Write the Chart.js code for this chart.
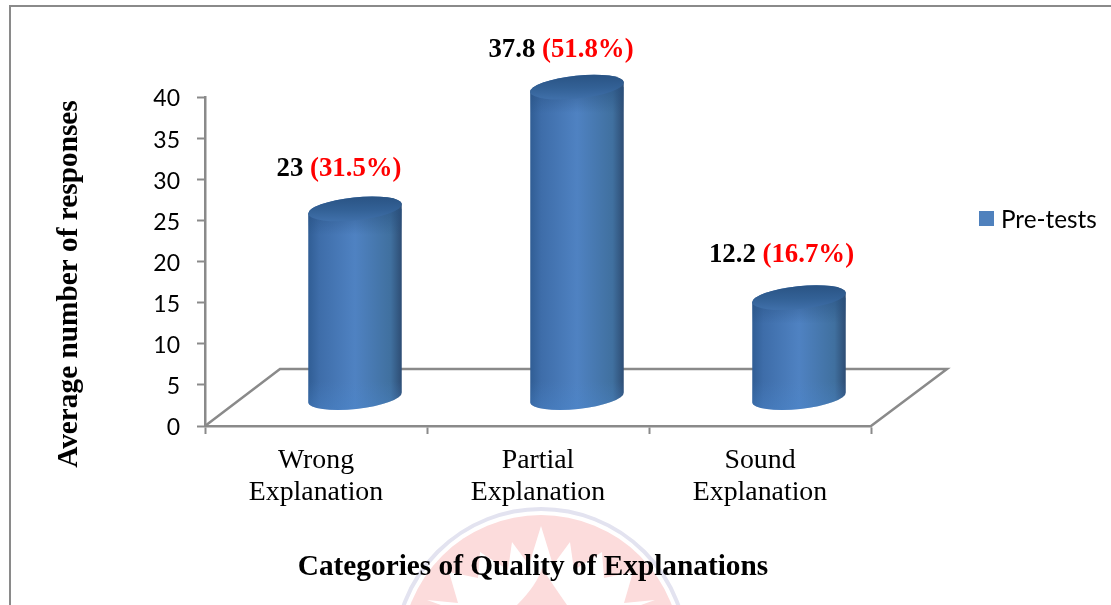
<!DOCTYPE html>
<html>

<head>
    <title>Quality of Explanations</title>
    <script src="https://cdn.jsdelivr.net/npm/chart.js"></script>
    <style>
        html, body {
            margin: 0;
            padding: 0;
            background: #ffffff;
            overflow: hidden;
        }

        canvas {
            display: block;
        }
    </style>
</head>

<body>
    <canvas id="explanationChart" width="1111" height="605"></canvas>

    <script>
        // Chart data
        var categories = [['Wrong', 'Explanation'], ['Partial', 'Explanation'], ['Sound', 'Explanation']];
        var seriesName = 'Pre-tests';
        var preTests = [23, 37.8, 12.2];
        var valueLabels = ['23', '37.8', '12.2'];
        var percentLabels = ['(31.5%)', '(51.8%)', '(16.7%)'];
        var xTitle = 'Categories of Quality of Explanations';
        var yTitle = 'Average number of responses';

        var serif = '"Liberation Serif", "Times New Roman", serif';
        var axisGrey = '#8a8a8a';

        // How far the cylinders and the floor are pushed back into the 3D view
        var depthX = 39;
        var depthY = 28;
        var floorX = 75;
        var floorY = 57;

        // Label shift from each cylinder's top
        var labelShift = [[-16, -68], [-16, -65], [-17.5, -71]];

        function pageFrame(ctx) {
            ctx.strokeStyle = axisGrey;
            ctx.lineWidth = 2;
            ctx.beginPath();
            ctx.moveTo(10, 605);
            ctx.lineTo(10, 6);
            ctx.lineTo(1111, 6);
            ctx.stroke();
        }

        // Faint seal behind the axis title
        function seal(ctx) {
            var cx = 541, cy = 655;
            ctx.fillStyle = '#fcdcdc';
            ctx.beginPath();
            ctx.arc(cx, cy, 140, 0, Math.PI * 2);
            ctx.fill();
            ctx.strokeStyle = '#e3e3f0';
            ctx.lineWidth = 4;
            ctx.beginPath();
            ctx.arc(cx, cy, 146, 0, Math.PI * 2);
            ctx.stroke();

            // white leaf, the right half mirrors the left
            var half = [[0, -129], [-12, -90], [-29, -113], [-33, -85], [-61, -103], [-63, -77], [-92, -83], [-83, -52], [-114, -55], [-100, -50]];
            ctx.fillStyle = '#ffffff';
            ctx.beginPath();
            half.forEach(function (p, i) {
                if (i === 0) ctx.moveTo(cx, cy + p[1]);
                else ctx.lineTo(cx + p[0], cy + p[1]);
            });
            half.slice().reverse().forEach(function (p) {
                ctx.lineTo(cx - p[0], cy + p[1]);
            });
            ctx.closePath();
            ctx.fill();

            // flame in the middle of the leaf
            ctx.fillStyle = '#fcdcdc';
            ctx.beginPath();
            ctx.moveTo(cx + 1, cy - 87);
            ctx.quadraticCurveTo(cx - 4, cy - 70, cx - 24, cy - 50);
            ctx.lineTo(cx + 26, cy - 50);
            ctx.quadraticCurveTo(cx + 12, cy - 70, cx + 1, cy - 87);
            ctx.fill();
        }

        function drawCylinder(ctx, cx, topY, baseY, rx) {
            var ry = 11.5;
            var tilt = -6 * Math.PI / 180;

            var side = ctx.createLinearGradient(cx - rx, 0, cx + rx, 0);
            side.addColorStop(0, '#305d94');
            side.addColorStop(0.12, '#3e6da9');
            side.addColorStop(0.5, '#4f82c2');
            side.addColorStop(0.88, '#40709f');
            side.addColorStop(1, '#2d4c73');

            ctx.save();
            ctx.beginPath();
            ctx.ellipse(cx, topY, rx, ry, tilt, Math.PI, Math.PI * 2);
            ctx.ellipse(cx, baseY, rx, ry, tilt, 0, Math.PI);
            ctx.closePath();
            ctx.fillStyle = side;
            ctx.fill();
            ctx.clip();

            // lighter fade into the bottom edge
            var rim = ctx.createLinearGradient(0, baseY - 16, 0, baseY + 12);
            rim.addColorStop(0, 'rgba(75, 135, 205, 0)');
            rim.addColorStop(1, 'rgba(75, 135, 205, 0.4)');
            ctx.fillStyle = rim;
            ctx.fillRect(cx - rx - 2, baseY - 16, rx * 2 + 4, 30);

            // soft shade right under the cap
            var shade = ctx.createLinearGradient(0, topY, 0, topY + 26);
            shade.addColorStop(0, 'rgba(38, 78, 125, 0.55)');
            shade.addColorStop(1, 'rgba(38, 78, 125, 0)');
            ctx.fillStyle = shade;
            ctx.fillRect(cx - rx - 2, topY, rx * 2 + 4, 26);
            ctx.restore();

            // top cap, its front edge melts into the side
            var cap = ctx.createLinearGradient(0, topY - ry, 0, topY + ry);
            cap.addColorStop(0, '#2a5485');
            cap.addColorStop(0.55, '#336196');
            cap.addColorStop(1, '#3f6fa9');
            ctx.fillStyle = cap;
            ctx.beginPath();
            ctx.ellipse(cx, topY, rx, ry, tilt, 0, Math.PI * 2);
            ctx.fill();
        }

        var scene = {
            id: 'scene',
            beforeDraw: function (chart) {
                var ctx = chart.ctx;
                ctx.save();
                pageFrame(ctx);
                seal(ctx);
                ctx.restore();
            },
            beforeDatasetsDraw: function (chart) {
                // floor of the plot, behind the cylinders
                var ctx = chart.ctx;
                var area = chart.chartArea;
                ctx.save();
                ctx.strokeStyle = axisGrey;
                ctx.lineWidth = 2.5;
                ctx.lineJoin = 'miter';
                ctx.beginPath();
                ctx.moveTo(area.left, area.bottom);
                ctx.lineTo(area.left + floorX, area.bottom - floorY);
                ctx.lineTo(area.right + floorX + 1, area.bottom - floorY);
                ctx.lineTo(area.right, area.bottom);
                ctx.stroke();
                ctx.restore();
            },
            afterDatasetsDraw: function (chart) {
                var ctx = chart.ctx;
                var bars = chart.getDatasetMeta(0).data;
                ctx.save();
                bars.forEach(function (bar, i) {
                    var cx = bar.x + depthX;
                    var rx = bar.width / 2;
                    drawCylinder(ctx, cx, bar.y - depthY, bar.base - depthY, rx);

                    // value and percentage above the cylinder
                    ctx.font = 'bold 26.8px ' + serif;
                    ctx.textBaseline = 'middle';
                    ctx.textAlign = 'left';
                    var gap = ctx.measureText(' ').width;
                    var w1 = ctx.measureText(valueLabels[i]).width;
                    var w2 = ctx.measureText(percentLabels[i]).width;
                    var lx = cx + labelShift[i][0] - (w1 + gap + w2) / 2;
                    var ly = bar.y + labelShift[i][1];
                    ctx.fillStyle = '#000000';
                    ctx.fillText(valueLabels[i], lx, ly);
                    ctx.fillStyle = '#ff0000';
                    ctx.fillText(percentLabels[i], lx + w1 + gap, ly);
                });
                ctx.restore();
            },
            afterDraw: function (chart) {
                var ctx = chart.ctx;
                ctx.save();

                // axis titles
                ctx.fillStyle = '#000000';
                ctx.font = 'bold 29.3px ' + serif;
                ctx.textAlign = 'center';
                ctx.textBaseline = 'middle';
                ctx.fillText(xTitle, 533, 567);
                ctx.save();
                ctx.translate(69, 284);
                ctx.rotate(-Math.PI / 2);
                ctx.fillText(yTitle, 0, 0);
                ctx.restore();

                // legend
                ctx.fillStyle = '#4f81bd';
                ctx.fillRect(979, 211, 15, 15);
                ctx.fillStyle = '#000000';
                ctx.font = '24.3px Lato, sans-serif';
                ctx.textAlign = 'left';
                ctx.fillText(seriesName, 1001, 220);
                ctx.restore();
            }
        };

        var explanationCtx = document.getElementById('explanationChart').getContext('2d');
        var explanationChart = new Chart(explanationCtx, {
            type: 'bar',
            data: {
                labels: categories,
                datasets: [{
                    label: seriesName,
                    data: preTests,
                    // the cylinders are painted by the scene plugin from these bars
                    backgroundColor: 'rgba(0, 0, 0, 0)',
                    categoryPercentage: 1,
                    barPercentage: 0.4234
                }]
            },
            options: {
                responsive: false,
                animation: false,
                layout: {
                    padding: { top: 97, right: 240, bottom: 0, left: 0 }
                },
                plugins: {
                    legend: { display: false },
                    tooltip: { enabled: false }
                },
                scales: {
                    x: {
                        afterFit: function (scale) {
                            scale.height = 179;
                        },
                        grid: {
                            drawOnChartArea: false,
                            tickLength: 8,
                            tickColor: axisGrey,
                            tickWidth: 2
                        },
                        border: { color: axisGrey, width: 2.5 },
                        ticks: {
                            color: '#000000',
                            maxRotation: 0,
                            padding: 11,
                            font: { family: serif, size: 27.8, lineHeight: 1.15 }
                        }
                    },
                    y: {
                        min: 0,
                        max: 40,
                        afterFit: function (scale) {
                            scale.width = 205;
                        },
                        grid: {
                            drawOnChartArea: false,
                            tickLength: 8,
                            tickColor: axisGrey,
                            tickWidth: 2
                        },
                        border: { color: axisGrey, width: 2.5 },
                        ticks: {
                            stepSize: 5,
                            color: '#000000',
                            padding: 17,
                            labelOffset: 2,
                            font: { family: 'Lato, sans-serif', size: 23 }
                        }
                    }
                }
            },
            plugins: [scene]
        });
    </script>
</body>

</html>
